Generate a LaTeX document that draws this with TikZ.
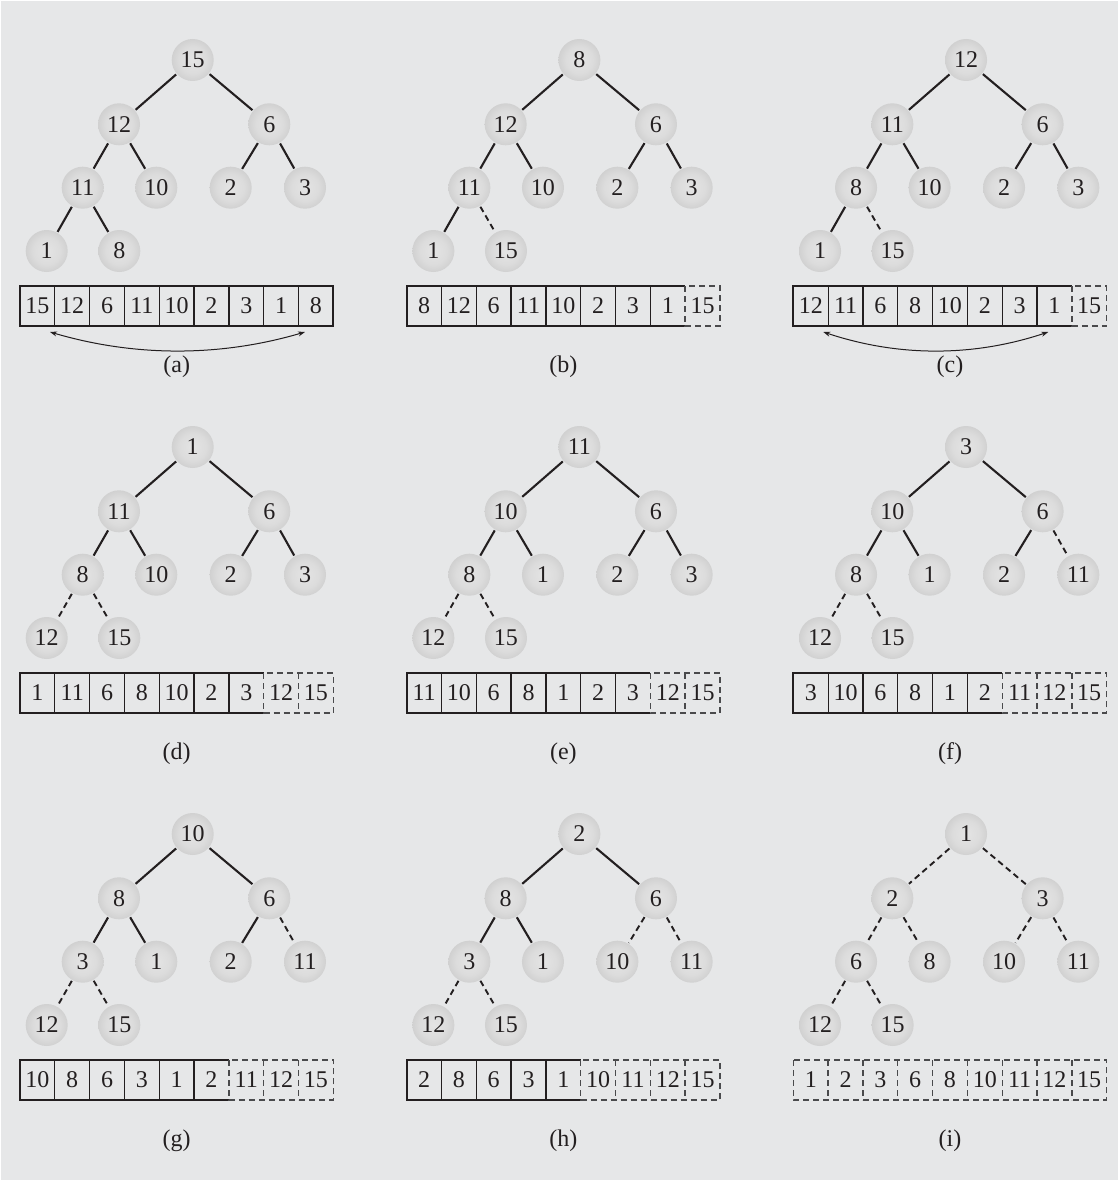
\documentclass[tikz,border=0pt]{standalone}
\usepackage{fontspec}
\setmainfont{Liberation Serif}
\usetikzlibrary{arrows.meta}
\definecolor{bgc}{HTML}{E6E7E8}
\definecolor{ink}{HTML}{231F20}
\definecolor{dashink}{HTML}{4A4A4C}
\definecolor{ballA}{HTML}{E4E4E4}
\definecolor{ballB}{HTML}{DCDCDC}
\definecolor{ballC}{HTML}{CDCDCD}
\definecolor{ballD}{HTML}{C0C0C0}
\definecolor{ballE}{HTML}{B6B6B6}
\pgfdeclareradialshading{heapball}{\pgfpoint{0bp}{0bp}}{color(0bp)=(ballA); color(16bp)=(ballB); color(28bp)=(ballC); color(35bp)=(ballD); color(50bp)=(ballE)}
\tikzset{
  heapnode/.style={circle, minimum size=42pt, inner sep=0pt, outer sep=1pt, shading=heapball, font=\fontsize{24}{28}\selectfont, text=ink},
  solidedge/.style={draw=ink, line width=2.1pt},
  dashedge/.style={draw=ink, line width=1.9pt, dash pattern=on 6pt off 4pt},
  cellbox/.style={minimum width=34.81pt, minimum height=40pt, inner sep=0pt, outer sep=0pt, font=\fontsize{24}{28}\selectfont, text=ink},
  frameline/.style={draw=ink, line width=2.1pt},
  sepline/.style={draw=ink, line width=1.3pt},
  dashcell/.style={draw=dashink, line width=1.4pt, dash pattern=on 6pt off 4pt},
  panellabel/.style={font=\fontsize{24}{28}\selectfont, text=ink},
  swaparrow/.style={draw=ink, line width=1pt, >={Stealth[length=7pt,width=5pt]}, <->},
}
% #1 tag, #2 column, #3 row, #4 values (level order = array order), #5 dash flags for children 2..9, #6 number of solid cells
\newcommand\heappanel[6]{%
  \begin{scope}[shift={(#2*386.67,#3*387)}]
    \foreach \px/\py [count=\i] in {192.7/60,119/124.3,269.3/124.3,82.7/187.7,156.3/187.7,230.7/187.7,305/187.7,46.7/251,119.3/251}{
      \pgfmathtruncatemacro\hv{{#4}[\i-1]}
      \node[heapnode] (#1-n\i) at (\px,\py) {\hv};
    }
    \foreach \k in {2,...,9}{
      \pgfmathtruncatemacro\hp{\k/2}
      \pgfmathtruncatemacro\hd{{#5}[\k-2]}
      \ifnum\hd=1 \draw[dashedge] (#1-n\hp) -- (#1-n\k);\else \draw[solidedge] (#1-n\hp) -- (#1-n\k);\fi
    }
    \foreach \k in {1,...,9}{
      \pgfmathtruncatemacro\hv{{#4}[\k-1]}
      \node[cellbox] (#1-c\k) at ({20+34.81*(\k-0.5)},306) {\hv};
    }
    \ifnum#6>0
      \foreach \k in {1,...,#6}{\ifnum\k<#6 \draw[sepline] (#1-c\k.north east) -- (#1-c\k.south east);\fi}
      \ifnum#6=9
        \draw[frameline] (#1-c1.north west) rectangle (#1-c9.south east);
      \else
        \draw[frameline] (#1-c#6.north east) -- (#1-c1.north west) -- (#1-c1.south west) -- (#1-c#6.south east);
      \fi
    \fi
    \ifnum#6<9
      \pgfmathtruncatemacro\hs{#6+1}
      \draw[dashcell] (#1-c\hs.north west) rectangle (#1-c9.south east);
      \ifnum\hs<9
        \foreach \k in {\hs,...,8}{\draw[dashcell] (#1-c\k.north east) -- (#1-c\k.south east);}
      \fi
    \fi
    \node[panellabel] (#1-lab) at (176.7,366.7) {(#1)};
  \end{scope}}
\begin{document}
\begin{tikzpicture}[x=1pt,y=-1pt]
  \useasboundingbox (0,0) rectangle (1118,1180);
  \fill[white] (0,0) rectangle (1118,1180);
  \fill[bgc] (1,1) rectangle (1118,1180);
  \heappanel{a}{0}{0}{15,12,6,11,10,2,3,1,8}{0,0,0,0,0,0,0,0}{9}
  \heappanel{b}{1}{0}{8,12,6,11,10,2,3,1,15}{0,0,0,0,0,0,0,1}{8}
  \heappanel{c}{2}{0}{12,11,6,8,10,2,3,1,15}{0,0,0,0,0,0,0,1}{8}
  \heappanel{d}{0}{1}{1,11,6,8,10,2,3,12,15}{0,0,0,0,0,0,1,1}{7}
  \heappanel{e}{1}{1}{11,10,6,8,1,2,3,12,15}{0,0,0,0,0,0,1,1}{7}
  \heappanel{f}{2}{1}{3,10,6,8,1,2,11,12,15}{0,0,0,0,0,1,1,1}{6}
  \heappanel{g}{0}{2}{10,8,6,3,1,2,11,12,15}{0,0,0,0,0,1,1,1}{6}
  \heappanel{h}{1}{2}{2,8,6,3,1,10,11,12,15}{0,0,0,0,1,1,1,1}{5}
  \heappanel{i}{2}{2}{1,2,3,6,8,10,11,12,15}{1,1,1,1,1,1,1,1}{0}
  % swap arrows
  \coordinate (a-swapL) at (50,332);
  \coordinate (a-swapR) at (305,332);
  \draw[swaparrow] (a-swapL) .. controls (135,357) and (220,357) .. (a-swapR);
  \coordinate (c-swapL) at (823.3,332);
  \coordinate (c-swapR) at (1048.3,332);
  \draw[swaparrow] (c-swapL) .. controls (898.3,357) and (973.3,357) .. (c-swapR);
\end{tikzpicture}
\end{document}
